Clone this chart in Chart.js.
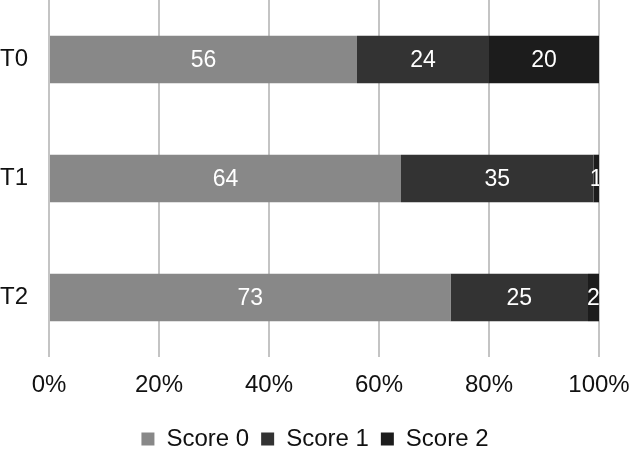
<!DOCTYPE html>
<html>
<head>
<meta charset="utf-8">
<script src="https://cdn.jsdelivr.net/npm/chart.js@4/dist/chart.umd.min.js"></script>
<style>
  html, body { margin: 0; padding: 0; background: #fff; }
  #wrap { width: 630px; height: 451px; position: relative; }
</style>
</head>
<body>
<div id="wrap"><canvas id="scoreChart"></canvas></div>
<script>
// data
const timepoints = ['T0', 'T1', 'T2'];
const score0 = [56, 64, 73];
const score1 = [24, 35, 25];
const score2 = [20, 1, 2];
const percentTicks = [0, 20, 40, 60, 80, 100];

const FONT = "'Liberation Sans', Arial, Helvetica, sans-serif";

// white value labels in the middle of each segment
const segmentLabels = {
  id: 'segmentLabels',
  afterDatasetsDraw(chart) {
    const ctx = chart.ctx;
    const area = chart.chartArea;
    ctx.save();
    ctx.beginPath();
    ctx.rect(area.left, area.top, area.right - area.left, area.bottom - area.top);
    ctx.clip();
    ctx.fillStyle = '#ffffff';
    ctx.font = '23px ' + FONT;
    ctx.textAlign = 'center';
    ctx.textBaseline = 'middle';
    chart.data.datasets.forEach((ds, i) => {
      const meta = chart.getDatasetMeta(i);
      meta.data.forEach((bar, j) => {
        const p = bar.getCenterPoint();
        ctx.fillText(String(ds.data[j]), p.x, p.y + 1);
      });
    });
    ctx.restore();
  }
};

new Chart(document.getElementById('scoreChart'), {
  type: 'bar',
  data: {
    labels: timepoints,
    datasets: [
      { label: 'Score 0', data: score0, backgroundColor: '#888888' },
      { label: 'Score 1', data: score1, backgroundColor: '#333333' },
      { label: 'Score 2', data: score2, backgroundColor: '#1c1c1c' },
    ],
  },
  options: {
    indexAxis: 'y',
    responsive: true,
    maintainAspectRatio: false,
    animation: false,
    datasets: {
      bar: { categoryPercentage: 1, barPercentage: 0.4, borderWidth: 0 },
    },
    layout: { padding: { top: 0, right: 0, bottom: -10, left: 0 } },
    plugins: {
      tooltip: { enabled: false },
      legend: {
        position: 'bottom',
        labels: {
          color: '#111111',
          font: { family: FONT, size: 24 },
          boxWidth: 13,
          boxHeight: 13,
          padding: 12,
        },
      },
    },
    scales: {
      x: {
        stacked: true,
        min: 0,
        max: 100,
        afterBuildTicks: (scale) => {
          scale.ticks = percentTicks.map(v => ({ value: v }));
        },
        afterFit: (scale) => {
          scale.height = 58;
          scale.paddingLeft = 0;
          scale.paddingRight = 31;
        },
        grid: { color: '#c4c4c4', lineWidth: 2, drawTicks: false },
        border: { display: false },
        ticks: {
          color: '#111111',
          font: { family: FONT, size: 24 },
          padding: 14,
          callback: (v) => v + '%',
        },
      },
      y: {
        stacked: true,
        grid: { display: false, drawTicks: false },
        border: { display: false },
        afterFit: (scale) => {
          scale.width = 49;
          scale.paddingTop = 0;
          scale.paddingBottom = 0;
        },
        ticks: {
          color: '#111111',
          font: { family: FONT, size: 24 },
          padding: 21,
        },
      },
    },
  },
  plugins: [segmentLabels],
});
</script>
</body>
</html>
